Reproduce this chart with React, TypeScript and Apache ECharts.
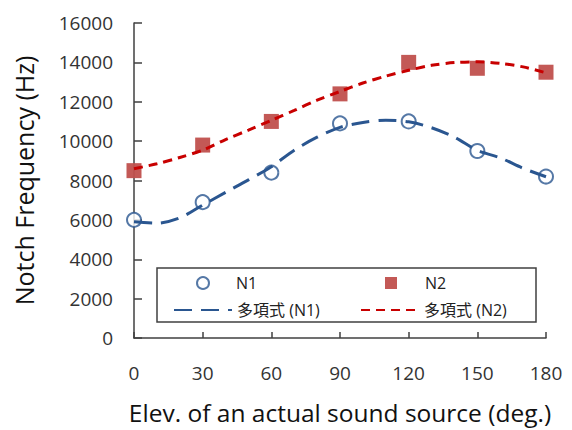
import React, { useEffect, useRef } from "react";
import * as echarts from "echarts";

// Measured data (elevation in degrees, notch frequency in Hz)
const angles = [0, 30, 60, 90, 120, 150, 180];
const n1Values = [6000, 6900, 8400, 10900, 11000, 9500, 8200];
const n2Values = [8500, 9800, 11000, 12400, 14000, 13700, 13500];

// Polynomial trend curves
const trendAngles = [0, 10, 20, 30, 40, 50, 60, 70, 80, 90, 100, 110, 120, 130, 140, 150, 160, 170, 180];
const trendN1 = [5900, 5830, 6100, 6750, 7400, 8030, 8700, 9540, 10200, 10700, 10950, 11060, 10980, 10680, 10200, 9530, 9150, 8620, 8190];
const trendN2 = [8600, 8850, 9170, 9540, 10080, 10560, 11050, 11560, 12080, 12520, 12950, 13300, 13600, 13850, 13990, 14030, 13950, 13770, 13470];

const xTicks = { min: 0, max: 180, interval: 30 };
const yTicks = { min: 0, max: 16000, interval: 2000 };

const seriesNames = ["N1", "N2", "多項式 (N1)", "多項式 (N2)"];

const FONT = "'Open Sans', 'Noto Sans CJK JP', sans-serif";
const BLUE = "#2a5690";
const RED_MARK = "#c0504d";
const RED_LINE = "#c80000";

export default function App() {
  const ref = useRef<HTMLDivElement>(null);
  useEffect(() => {
    if (!ref.current) return;
    const chart = echarts.init(ref.current, null, { renderer: "svg" });
    const pair = (xs: number[], ys: number[]) => xs.map((x, i) => [x, ys[i]]);
    const textStyle = { fontFamily: FONT, fontSize: 16, color: "#222", lineHeight: 16 };
    const legendBase = {
      orient: "horizontal" as const,
      padding: 0,
      itemGap: 0,
      selectedMode: false,
    };
    const hidden = { opacity: 0, color: "rgba(0,0,0,0)", borderWidth: 0 };
    chart.setOption({
      animation: false,
      textStyle: { fontFamily: FONT },
      grid: { left: 134, right: 26, top: 23, bottom: 92, containLabel: false, outerBoundsMode: "none" },
      xAxis: {
        type: "value",
        ...xTicks,
        name: "Elev. of an actual sound source (deg.)",
        nameLocation: "middle",
        nameGap: 62,
        nameTextStyle: { fontFamily: FONT, fontSize: 24.5, color: "#111" },
        axisLine: { show: true, onZero: false, lineStyle: { color: "#404040", width: 1.5 } },
        axisTick: { show: true, inside: true, length: 6, lineStyle: { color: "#404040", width: 1.5 } },
        axisLabel: { margin: 25, fontFamily: FONT, fontSize: 19, lineHeight: 19, color: "#333" },
        splitLine: { show: false },
      },
      yAxis: {
        type: "value",
        ...yTicks,
        name: "Notch Frequency (Hz)",
        nameLocation: "middle",
        nameRotate: 90,
        nameGap: 98,
        nameTextStyle: { fontFamily: FONT, fontSize: 25, color: "#111" },
        axisLine: { show: true, lineStyle: { color: "#404040", width: 1.5 } },
        axisTick: { show: true, inside: true, length: 8, lineStyle: { color: "#404040", width: 1.5 } },
        axisLabel: {
          margin: 21,
          fontFamily: FONT,
          fontSize: 19,
          color: "#333",
          formatter: (v: number) => String(v),
        },
        splitLine: { show: false },
      },
      legend: [
        {
          ...legendBase,
          itemWidth: 12,
          itemHeight: 12,
          textStyle: { ...textStyle, padding: [0, 0, 0, 22] },
          data: [{ name: seriesNames[0], icon: "emptyCircle" }],
          left: 196,
          top: 275,
        },
        {
          ...legendBase,
          itemWidth: 12,
          itemHeight: 12,
          textStyle: { ...textStyle, padding: [0, 0, 0, 23] },
          data: [{ name: seriesNames[1], icon: "rect" }],
          left: 385,
          top: 275,
        },
        {
          ...legendBase,
          itemWidth: 58,
          itemHeight: 12,
          textStyle,
          data: [{ name: seriesNames[2], itemStyle: hidden }],
          left: 173,
          top: 302,
        },
        {
          ...legendBase,
          itemWidth: 58,
          itemHeight: 12,
          textStyle,
          data: [{ name: seriesNames[3], itemStyle: hidden }],
          left: 360,
          top: 302,
        },
      ],
      graphic: [
        {
          type: "rect",
          z: 3,
          shape: { x: 157, y: 268, width: 379, height: 54 },
          style: { fill: "#ffffff", stroke: "#404040", lineWidth: 1.5 },
        },
      ],
      series: [
        {
          name: seriesNames[0],
          type: "scatter",
          symbol: "emptyCircle",
          symbolSize: 14,
          itemStyle: { color: BLUE, borderColor: BLUE, borderWidth: 2.8 },
          data: pair(angles, n1Values),
        },
        {
          name: seriesNames[1],
          type: "scatter",
          symbol: "rect",
          symbolSize: 15,
          itemStyle: { color: RED_MARK, opacity: 0.95 },
          data: pair(angles, n2Values),
        },
        {
          name: seriesNames[2],
          type: "line",
          symbol: "none",
          smooth: 0.3,
          lineStyle: { color: BLUE, width: 3, type: [18, 9] },
          itemStyle: { color: BLUE },
          data: pair(trendAngles, trendN1),
        },
        {
          name: seriesNames[3],
          type: "line",
          symbol: "none",
          smooth: 0.3,
          lineStyle: { color: RED_LINE, width: 3, type: [9, 6] },
          itemStyle: { color: RED_LINE },
          data: pair(trendAngles, trendN2),
        },
      ],
    });
    return () => chart.dispose();
  }, []);
  return (
    <div
      ref={ref}
      style={{ position: "fixed", left: 0, top: 0, width: 572, height: 430, background: "#fff" }}
    />
  );
}
